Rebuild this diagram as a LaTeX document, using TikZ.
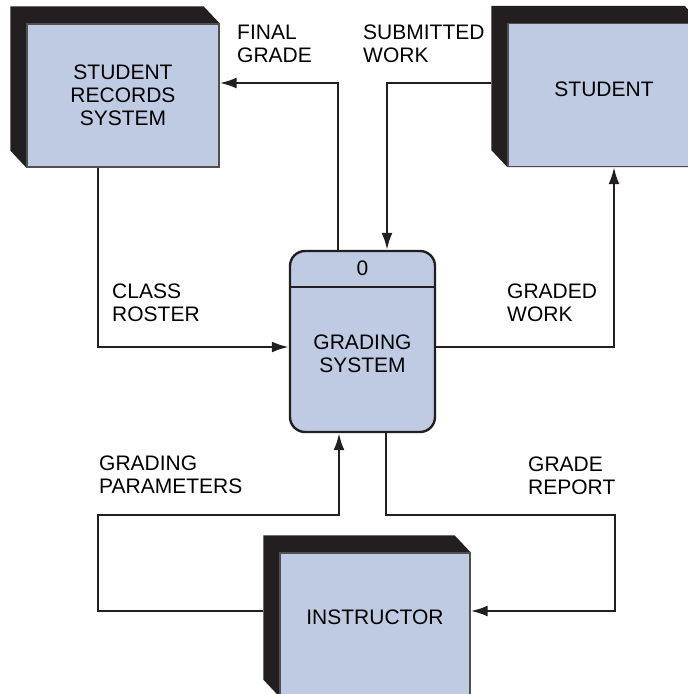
\documentclass[tikz,border=0pt]{standalone}
\usepackage{fontspec}
\setmainfont{Liberation Sans}
\usetikzlibrary{arrows.meta,backgrounds,calc}
\definecolor{boxblue}{HTML}{BFCBE3}
\definecolor{inkdark}{HTML}{231F20}
\definecolor{rimgray}{HTML}{505052}
\newcommand\dfdfont{\fontsize{21}{23}\selectfont}
\tikzset{
  entity/.style={rectangle,draw=rimgray,line width=1.3pt,fill=boxblue,minimum width=192pt,minimum height=143pt,inner sep=0pt,align=center,font=\dfdfont},
  process/.style={rectangle,rounded corners=15pt,draw=inkdark,line width=2.4pt,fill=boxblue,minimum width=145pt,minimum height=181pt,inner sep=0pt,font=\dfdfont},
  flow/.style={draw=inkdark,line width=2.4pt,-{Latex[length=17pt,width=11pt]}},
  flowlabel/.style={align=left,anchor=north west,inner sep=0pt,font=\dfdfont}
}

\begin{document}
\begin{tikzpicture}[x=1pt,y=-1pt]
  \useasboundingbox (0,0) rectangle (688,694);

  % external entities and the process
  \node[entity] (srs) at (123,95.5) {STUDENT\\RECORDS\\SYSTEM};
  \node[entity,label={[font=\dfdfont,yshift=5.5pt]center:STUDENT}] (stu) at (604,95) {};
  \node[entity,minimum width=190pt,label={[font=\dfdfont,yshift=7.5pt]center:INSTRUCTOR}] (ins) at (375,624.5) {};
  \node[process,label={[font=\dfdfont,align=center,yshift=-12.5pt]center:{GRADING\\SYSTEM}}] (proc) at (362.5,341.5) {};

  \begin{scope}[on background layer]
    \foreach \e in {srs,stu,ins}
      \fill[inkdark] ($(\e.north west)+(-16,-17)$) -- ($(\e.north east)+(-16,-17)$)
        -- (\e.north east) -- (\e.south east) -- (\e.south west)
        -- ($(\e.south west)+(-16,-17)$) -- cycle;
  \end{scope}

  \coordinate (pdiv) at (0,287);
  \draw[inkdark,line width=2.4pt] (proc.west |- pdiv) -- (proc.east |- pdiv);
  \node[font=\dfdfont] (pid) at ($(proc.north)!0.5!(proc.north |- pdiv)$) {0};

  % bends of the flows
  \coordinate (fgx) at (338,83);
  \coordinate (swx) at (387,83);
  \coordinate (crx) at (98,347);
  \coordinate (gwx) at (614,347);
  \coordinate (gpa) at (98,515);
  \coordinate (gpb) at (339,611);
  \coordinate (gra) at (386,515);
  \coordinate (grb) at (615,611);

  \draw[flow] (proc.north -| fgx) |- (srs.east |- fgx);
  \draw[flow] ($(stu.west |- swx)+(-16,0)$) -| (proc.north -| swx);
  \draw[flow] (srs.south -| crx) |- (proc.west |- crx);
  \draw[flow] (proc.east |- gwx) -| (stu.south -| gwx);
  \draw[flow] ($(ins.west |- gpb)+(-16,0)$) -| (gpa) -| (proc.south -| gpb);
  \draw[flow] (proc.south -| gra) -- (gra) -| (grb) -- (ins.east |- grb);

  % flow labels
  \node[flowlabel] (lfg) at (237,25) {FINAL\\GRADE};
  \node[flowlabel] (lsw) at (363,25) {SUBMITTED\\WORK};
  \node[flowlabel] (lcr) at (112,284) {CLASS\\ROSTER};
  \node[flowlabel] (lgw) at (507,284) {GRADED\\WORK};
  \node[flowlabel] (lgp) at (99,456) {GRADING\\PARAMETERS};
  \node[flowlabel] (lgr) at (528,457) {GRADE\\REPORT};
\end{tikzpicture}
\end{document}
